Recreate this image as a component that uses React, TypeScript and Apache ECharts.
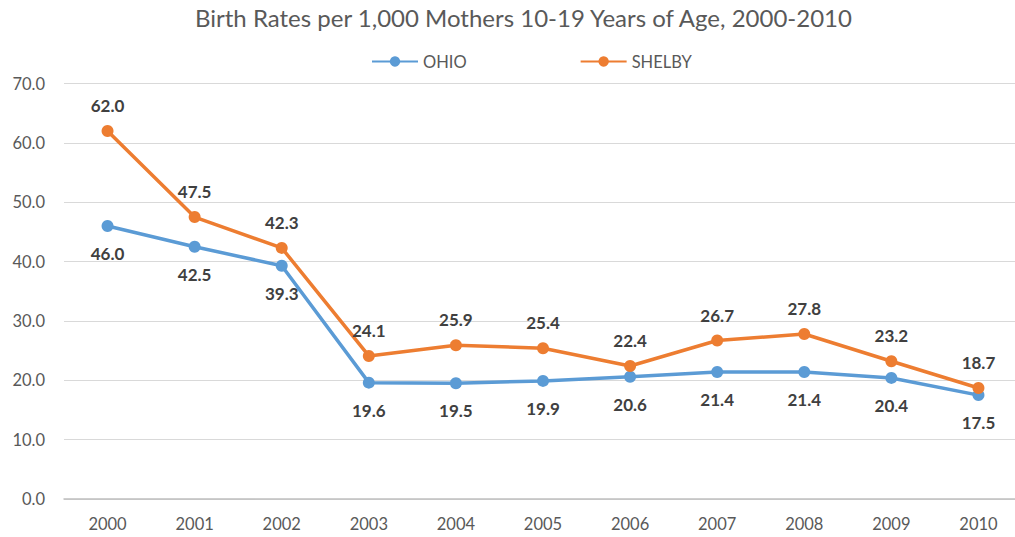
import React, { useEffect, useRef } from "react";
import * as echarts from "echarts";

const years = ["2000", "2001", "2002", "2003", "2004", "2005", "2006", "2007", "2008", "2009", "2010"];
const ohio = [46.0, 42.5, 39.3, 19.6, 19.5, 19.9, 20.6, 21.4, 21.4, 20.4, 17.5];
const shelby = [62.0, 47.5, 42.3, 24.1, 25.9, 25.4, 22.4, 26.7, 27.8, 23.2, 18.7];
const yTicks = [0, 10, 20, 30, 40, 50, 60, 70];

const FONT = "Lato";

export default function App() {
  const ref = useRef<HTMLDivElement>(null);
  useEffect(() => {
    document.body.style.margin = "0";
    const chart = echarts.init(ref.current!, null, { renderer: "svg" });
    const labelStyle = { fontFamily: FONT, fontSize: 17, fontWeight: "bold" as const, color: "#404040" };
    chart.setOption({
      animation: false,
      backgroundColor: "#ffffff",
      title: {
        text: "Birth Rates per 1,000 Mothers 10-19 Years of Age, 2000-2010",
        left: 190,
        top: 0,
        textStyle: { fontFamily: FONT, fontSize: 24, fontWeight: "normal", color: "#595959" },
      },
      legend: {
        top: 48,
        left: 366,
        itemWidth: 46,
        itemHeight: 13,
        itemGap: 113,
        textStyle: { fontFamily: FONT, fontSize: 16.5, color: "#595959" },
        data: ["OHIO", "SHELBY"],
      },
      grid: { left: 64, right: 8, top: 83.5, bottom: 38 },
      xAxis: {
        type: "category",
        data: years,
        boundaryGap: true,
        axisLine: { show: true, lineStyle: { color: "#BFBFBF", width: 1.5 } },
        axisTick: { show: false },
        axisLabel: { fontFamily: FONT, fontSize: 16.5, color: "#595959", margin: 16 },
      },
      yAxis: {
        type: "value",
        min: yTicks[0],
        max: yTicks[yTicks.length - 1],
        interval: 10,
        axisLine: { show: false },
        axisTick: { show: false },
        splitLine: { lineStyle: { color: "#D9D9D9", width: 1 } },
        axisLabel: {
          fontFamily: FONT,
          fontSize: 16.5,
          color: "#595959",
          margin: 19,
          formatter: (v: number) => v.toFixed(1),
        },
      },
      series: [
        {
          name: "OHIO",
          type: "line",
          color: "#5B9BD5",
          symbol: "circle",
          symbolSize: 12,
          lineStyle: { width: 3.5 },
          label: {
            show: true,
            position: "bottom",
            distance: 13,
            ...labelStyle,
            formatter: (p: any) => Number(p.value).toFixed(1),
          },
          data: ohio,
        },
        {
          name: "SHELBY",
          type: "line",
          color: "#ED7D31",
          symbol: "circle",
          symbolSize: 12,
          lineStyle: { width: 3.5 },
          label: {
            show: true,
            position: "top",
            distance: 11,
            ...labelStyle,
            formatter: (p: any) => Number(p.value).toFixed(1),
          },
          data: shelby,
        },
      ],
    });
    return () => chart.dispose();
  }, []);
  return (
    <div style={{ width: 1015, height: 537, overflow: "hidden" }}>
      <div ref={ref} style={{ width: 1030, height: 537 }} />
    </div>
  );
}
